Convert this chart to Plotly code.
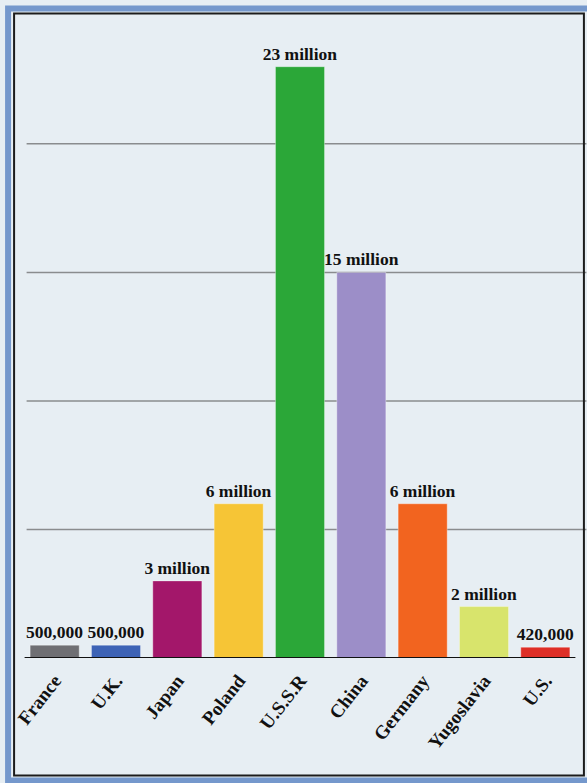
import plotly.graph_objects as go

countries = ["France", "U.K.", "Japan", "Poland", "U.S.S.R", "China", "Germany", "Yugoslavia", "U.S."]
deaths_millions = [0.5, 0.5, 3, 6, 23, 15, 6, 2, 0.42]
value_labels = ["500,000", "500,000", "3 million", "6 million", "23 million",
                "15 million", "6 million", "2 million", "420,000"]
bar_colors = ["#6f6f73", "#3d63b6", "#a3176a", "#f6c536", "#2ba738",
              "#9c8ec8", "#f2641f", "#d8e46c", "#de2f27"]
gridline_values = [5, 10, 15, 20]

W, H = 587, 783
L_PX, R_PX = 24.4, 575.6
T_PX, B_PX = 41, 658
YMAX = 24


def px_x(x):
    return (x - L_PX) / (R_PX - L_PX)


def px_y(y):
    return (B_PX - y) / (B_PX - T_PX)


bg = "#e7eef3"
fnt = "Liberation Serif"

fig = go.Figure(go.Bar(
    x=countries,
    y=deaths_millions,
    text=value_labels,
    textposition="outside",
    constraintext="none",
    cliponaxis=False,
    textfont=dict(family=fnt, size=17.5, color="#111111", weight="bold"),
    marker=dict(color=bar_colors, line=dict(color="rgba(255,255,255,0.35)", width=1)),
))

shapes = []
for g in gridline_values:
    shapes.append(dict(type="line", xref="paper", yref="y",
                       x0=px_x(27), x1=px_x(586), y0=g, y1=g,
                       line=dict(color="#8a8c8e", width=1.5), layer="below"))
# baseline
shapes.append(dict(type="line", xref="paper", yref="y",
                   x0=px_x(25), x1=px_x(575), y0=0, y1=0,
                   line=dict(color="#111111", width=2), layer="above"))
# outer blue frame
shapes.append(dict(type="rect", xref="paper", yref="paper",
                   x0=px_x(8.5), x1=px_x(592), y0=px_y(8.5), y1=px_y(780.5),
                   line=dict(color="#7598cc", width=6), layer="below"))
# inner black frame
shapes.append(dict(type="rect", xref="paper", yref="paper",
                   x0=px_x(14.5), x1=px_x(583.5), y0=px_y(13.5), y1=px_y(775.5),
                   line=dict(color="#1c1c1c", width=2), layer="below"))

fig.update_layout(
    width=W, height=H,
    margin=dict(l=L_PX, r=W - R_PX, t=T_PX, b=H - B_PX, autoexpand=False),
    paper_bgcolor=bg, plot_bgcolor=bg,
    bargap=0.2,
    showlegend=False,
    shapes=shapes,
    xaxis=dict(tickangle=-52, tickfont=dict(family=fnt, size=19, color="#111111", weight="bold"),
               showgrid=False, zeroline=False, showline=False,
               ticks="outside", ticklen=3, tickcolor="rgba(0,0,0,0)"),
    yaxis=dict(range=[0, YMAX], visible=False, showgrid=False, zeroline=False),
)

fig.write_html("out.html", config={"displayModeBar": False},
               post_script="document.body.style.margin='0';document.body.style.background='" + bg + "';")
